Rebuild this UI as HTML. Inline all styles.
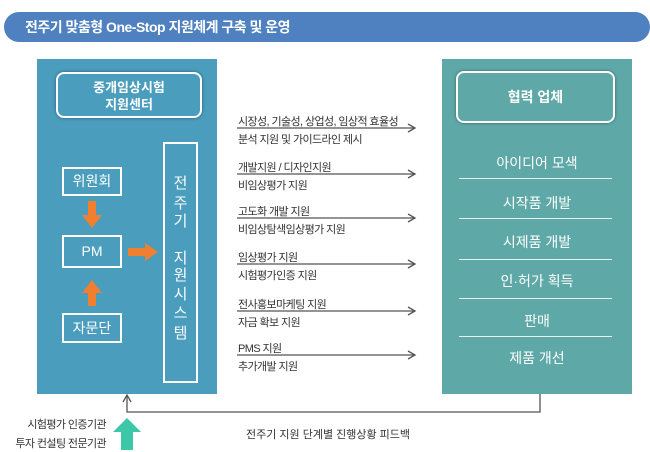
<!DOCTYPE html>
<html><head><meta charset="utf-8"><style>
*{margin:0;padding:0;box-sizing:border-box}
body{width:650px;height:452px;background:#fff;position:relative;overflow:hidden;font-family:"Liberation Sans","Noto Sans CJK KR",sans-serif}
.a{position:absolute}
.hdr{left:4px;top:12px;width:646px;height:30px;background:#4f80bf;border-radius:15px;color:#fff;font-size:14px;font-weight:bold;line-height:30px;padding-left:21px;letter-spacing:-0.5px}
.lp{left:37px;top:59px;width:180px;height:335px;background:#4a9dbd}
.rp{left:442px;top:59px;width:190px;height:335px;background:#5fa8a8}
.ib{border:2px solid #fff;border-radius:8px;color:#fff;font-weight:bold;text-align:center;box-shadow:0 0 3px rgba(0,0,0,.4)}
.bx{border:2px solid #fff;color:#fff;font-size:14px;text-align:center}
.t{font-size:11px;color:#333;letter-spacing:-0.6px;white-space:nowrap}
.it{color:#fff;font-size:14px;text-align:center;width:190px;left:442px}
.sep{left:459px;width:153px;height:1px;background:#e6f3f3}
.sc{color:#fff;font-size:15px;width:35px;text-align:center;left:163px}
</style></head><body>
<div class="a hdr">전주기 맞춤형 One-Stop 지원체계 구축 및 운영</div>
<div class="a lp"></div>
<div class="a rp"></div>
<div class="a ib" style="left:56px;top:72px;width:146px;height:46px;font-size:13px;line-height:17px;padding-top:5px">중개임상시험<br>지원센터</div>
<div class="a ib" style="left:456px;top:71px;width:159px;height:52px;font-size:14px;line-height:48px">협력 업체</div>
<div class="a bx" style="left:62px;top:167px;width:60px;height:29px;line-height:25px">위원회</div>
<div class="a bx" style="left:62px;top:235px;width:60px;height:33px;line-height:29px">PM</div>
<div class="a bx" style="left:62px;top:313px;width:60px;height:30px;line-height:26px">자문단</div>
<div class="a" style="left:163px;top:142px;width:35px;height:241px;border:2px solid #fff"></div>
<div class="a sc" style="top:172px">전</div>
<div class="a sc" style="top:192px">주</div>
<div class="a sc" style="top:210px">기</div>
<div class="a sc" style="top:247px">지</div>
<div class="a sc" style="top:264px">원</div>
<div class="a sc" style="top:283px">시</div>
<div class="a sc" style="top:302px">스</div>
<div class="a sc" style="top:322px">템</div>
<svg class="a" style="left:0;top:0" width="650" height="452">
<g fill="#f08030">
<rect x="88" y="201" width="8" height="15"/><polygon points="82,215 102,215 92,228"/>
<rect x="88" y="292" width="8" height="14"/><polygon points="82,293 102,293 92,280"/>
<rect x="128" y="248" width="18" height="8"/><polygon points="145,243 145,261 158,252"/>
</g>
<g stroke="#555" stroke-width="1.3" fill="none">
<line x1="237" y1="128" x2="415" y2="128"/><polyline points="408,124 415,128 408,132"/>
<line x1="237" y1="174" x2="415" y2="174"/><polyline points="408,170 415,174 408,178"/>
<line x1="237" y1="218" x2="415" y2="218"/><polyline points="408,214 415,218 408,222"/>
<line x1="237" y1="264" x2="415" y2="264"/><polyline points="408,260 415,264 408,268"/>
<line x1="237" y1="311" x2="415" y2="311"/><polyline points="408,307 415,311 408,315"/>
<line x1="237" y1="355" x2="415" y2="355"/><polyline points="408,351 415,355 408,359"/>
<polyline points="540,394 540,412 127,412 127,396"/><polyline points="123,402 127,395 131,402"/>
</g>
<polygon points="127,418 141,432 133,432 133,450 121,450 121,432 113,432" fill="#3cc7a8"/>
</svg>
<div class="a t" style="left:238px;top:113px">시장성, 기술성, 상업성, 임상적 효율성</div>
<div class="a t" style="left:238px;top:131px">분석 지원 및 가이드라인 제시</div>
<div class="a t" style="left:238px;top:159px">개발지원 / 디자인지원</div>
<div class="a t" style="left:238px;top:177px">비임상평가 지원</div>
<div class="a t" style="left:238px;top:203px">고도화 개발 지원</div>
<div class="a t" style="left:238px;top:221px">비임상탐색임상평가 지원</div>
<div class="a t" style="left:238px;top:249px">임상평가 지원</div>
<div class="a t" style="left:238px;top:267px">시험평가인증 지원</div>
<div class="a t" style="left:238px;top:296px">전사홍보마케팅 지원</div>
<div class="a t" style="left:238px;top:314px">자금 확보 지원</div>
<div class="a t" style="left:238px;top:340px">PMS 지원</div>
<div class="a t" style="left:238px;top:358px">추가개발 지원</div>
<div class="a it" style="top:153px">아이디어 모색</div>
<div class="a sep" style="top:178px"></div>
<div class="a it" style="top:193px">시작품 개발</div>
<div class="a sep" style="top:218px"></div>
<div class="a it" style="top:232px">시제품 개발</div>
<div class="a sep" style="top:259px"></div>
<div class="a it" style="top:271px">인·허가 획득</div>
<div class="a sep" style="top:298px"></div>
<div class="a it" style="top:311px">판매</div>
<div class="a sep" style="top:336px"></div>
<div class="a it" style="top:348px">제품 개선</div>
<div class="a t" style="left:0;width:106px;text-align:right;top:416px">시험평가 인증기관</div>
<div class="a t" style="left:0;width:106px;text-align:right;top:435px">투자 컨설팅 전문기관</div>
<div class="a t" style="left:246px;top:426px;letter-spacing:0">전주기 지원 단계별 진행상황 피드백</div>
</body></html>
